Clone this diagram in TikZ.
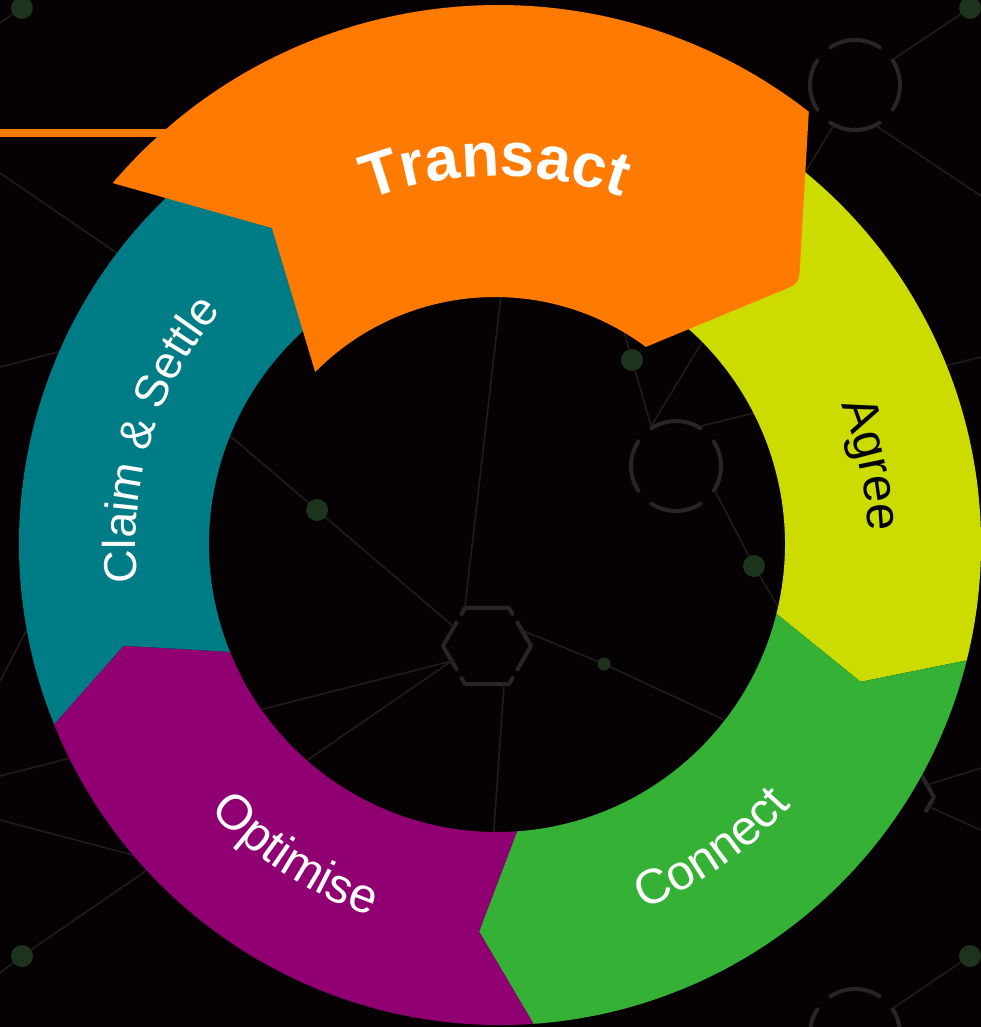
\documentclass[tikz,border=0pt]{standalone}
\usepackage{fontspec}
\setmainfont{Liberation Sans}
\usetikzlibrary{shapes.geometric,decorations.text}

\definecolor{bgblack}{HTML}{060203}
\definecolor{netgrey}{HTML}{201C1D}
\definecolor{hubgrey}{HTML}{292526}
\definecolor{dotgreen}{HTML}{1C341C}
\definecolor{transactcol}{HTML}{FF7A00}
\definecolor{agreecol}{HTML}{CCDC00}
\definecolor{connectcol}{HTML}{35B236}
\definecolor{optimisecol}{HTML}{910073}
\definecolor{claimcol}{HTML}{007C87}

\newcommand\ringfont{\fontsize{49}{49}\selectfont}
\newcommand\claimfont{\fontsize{46}{46}\selectfont}
\newcommand\bigringfont{\bfseries\fontsize{62}{62}\selectfont}

\begin{document}
\begin{tikzpicture}[x=1pt,y=-1pt,
    net/.style={draw=netgrey,line width=1.6pt},
    dot/.style={circle,fill=dotgreen,inner sep=0pt,minimum size=22pt},
    hubring/.style={circle,draw=hubgrey,line width=4pt,line cap=round,minimum size=90pt,inner sep=0pt,
        dash pattern=on 52pt off 18.7pt,dash phase=26pt},
    hubhex/.style={regular polygon,regular polygon sides=6,minimum size=88pt,inner sep=0pt},
    hexline/.style={draw=hubgrey,line width=4pt,line cap=round,line join=round}]

    % page and background
    \useasboundingbox (0,0) rectangle (981,1027);
    \clip (0,0) rectangle (981,1027);
    \fill[bgblack] (0,0) rectangle (981,1027);

    % network dots
    \node[dot] (d1) at (22,8) {};
    \node[dot] (d2) at (970,8) {};
    \node[dot] (d3) at (22,956) {};
    \node[dot] (d4) at (970,956) {};
    \node[dot] (d5) at (317,510) {};
    \node[dot] (d6) at (632,360) {};
    \node[dot] (d7) at (754,566) {};
    \node[dot,minimum size=13pt] (d8) at (604,664) {};

    % open rings and hexagons
    \node[hubring] (c1) at (855,85) {};
    \node[hubring] (c2) at (676,466) {};
    \node[hubring] (c3) at (855,1034) {};
    \node[hubring] (c4) at (510,-27) {};
    \node[hubhex] (h1) at (487,646) {};
    \node[hubhex] (h2) at (890,797) {};

    \draw[hexline,shift={(h1.center)}]
        (-25.5,-32) -- (-22,-38.1) -- (22,-38.1) -- (25.5,-32)
        (30.5,-23.4) -- (44,0) -- (30.5,23.4)
        (25.5,32) -- (22,38.1) -- (-22,38.1) -- (-25.5,32)
        (-30.5,23.4) -- (-44,0) -- (-30.5,-23.4);
    % only the tip of h2 shows beside the ring
    \draw[hexline,shift={(h2.center)}] (30.5,-23.4) -- (44,0) -- (36,13.8);

    % loose ends, at the edge or under the ring
    \coordinate (e1) at (981,357);
    \coordinate (e2) at (981,196);
    \coordinate (e3) at (0,23);
    \coordinate (e4) at (0,973);
    \coordinate (e5) at (0,173);
    \coordinate (e6) at (981,768);
    \coordinate (e7) at (981,830);
    \coordinate (e8) at (0,776);
    \coordinate (e9) at (0,367);
    \coordinate (e10) at (0,681);
    \coordinate (e11) at (0,820);
    \coordinate (n1) at (160,376);
    \coordinate (n2) at (482,1000);
    \coordinate (n6) at (200,310);
    \coordinate (n7) at (150,328);
    \coordinate (n8) at (60,566);
    \coordinate (n9) at (220,878);

    % network lines
    \draw[net] (h1.120) -- (c4.-60);
    \draw[net] (d6) -- (c4.-60);
    \draw[net] (h1.150) -- (d5) -- (n1);
    \draw[net] (h1.-66) -- (n2);
    \draw[net] (d3) -- (h1.203) -- (e8);
    \draw[net] (h1.24) -- (d8) -- (h2);
    \draw[net] (d6) -- (c2.122) -- (c1.-118);
    \draw[net] (c2.58) -- (e1);
    \draw[net] (c2.-33) -- (d7) -- (h2);
    \draw[net] (c1) -- (d2);
    \draw[net] (c1.-62) -- (e2);
    \draw[net] (c3) -- (d4);
    \draw[net] (d1) -- (e3);
    \draw[net] (d3) -- (e4);
    \draw[net] (h2.18) -- (e6);
    \draw[net] (h2.-14) -- (e7);
    \draw[net] (e5) -- (n6);
    \draw[net] (e9) -- (n7);
    \draw[net] (e10) -- (n8);
    \draw[net] (e11) -- (n9);

    % the ring, four plain parts
    \foreach \col/\a/\b [evaluate=\a as \at using \a+6.8, evaluate=\b as \bt using \b+6.8]
            in {agreecol/-58/14, connectcol/14/86, optimisecol/86/158, claimcol/158/230}
        \fill[\col] ([shift={(500,544)}]\a:481) arc[start angle=\a,end angle=\b,radius=481]
            -- ([shift={(498,544)}]\bt:388) -- ([shift={(497,544)}]\b:288)
            arc[start angle=\b,end angle=\a,radius=288]
            -- ([shift={(498,544)}]\at:388) -- cycle;

    % the lifted Transact part
    \coordinate (bar1) at (0,133);
    \coordinate (bar2) at (200,133);
    \draw[transactcol,line width=8pt] (bar1) -- (bar2);
    \fill[transactcol] ([shift={(498,511)}]-139.6:506) arc[start angle=-139.6,end angle=-52.1,radius=506]
        -- (800,265.5) .. controls (799,283.5) .. (782.4,290.4)
        -- ([shift={(495,550)}]-53.4:253) arc[start angle=-53.4,end angle=-135.3,radius=253]
        -- (272,228) -- cycle;

    % labels
    \path[decorate,decoration={text along path,text align=center,text color=white,
            text={|\bigringfont|Transact}}]
        ([shift={(498,544)}]-127:368) arc[start angle=-127,end angle=-54,radius=368];
    \path[decorate,decoration={text along path,text align=center,text color=black,
            text={|\ringfont|Agree}}]
        ([shift={(498,544)}]-52:370) arc[start angle=-52,end angle=28,radius=370];
    \path[decorate,decoration={text along path,text align=center,text color=white,
            text={|\ringfont|Connect}}]
        ([shift={(498,544)}]95:393) arc[start angle=95,end angle=15,radius=393];
    \path[decorate,decoration={text along path,text align=center,text color=white,
            text={|\ringfont|Optimise}}]
        ([shift={(498,544)}]163:393) arc[start angle=163,end angle=83,radius=393];
    \path[decorate,decoration={text along path,text align=center,text color=white,
            text={|\claimfont|Claim {\&} Settle}}]
        ([shift={(498,544)}]157:362) arc[start angle=157,end angle=237,radius=362];
\end{tikzpicture}
\end{document}
